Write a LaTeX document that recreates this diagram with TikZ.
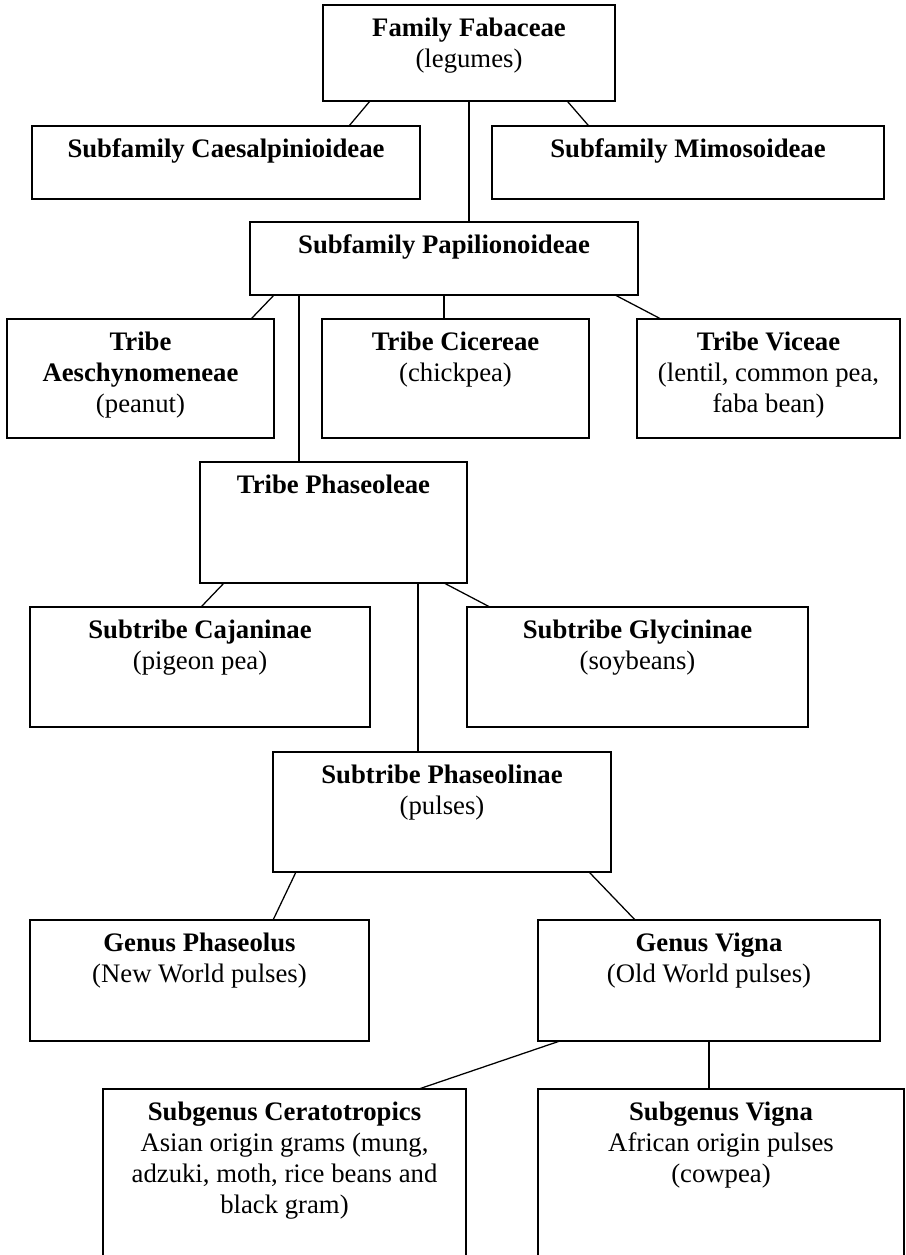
\documentclass[tikz,border=0pt]{standalone}
\usepackage{fontspec}
\setmainfont{Liberation Serif}
\usetikzlibrary{calc,fit}

\begin{document}
\begin{tikzpicture}[x=0.025cm, y=-0.025cm]
\tikzset{box/.style={draw, line width=1.1pt, inner sep=0pt, outer sep=0pt},
  txt/.style={anchor=north, align=center, inner sep=0pt, font=\fontsize{19}{22}\selectfont},
  link/.style={line width=0.9pt}}

\useasboundingbox (0,0) rectangle (906,1255);
\clip (0,0) rectangle (906,1255);

% family and subfamilies
\node [box, fit={(323,5) (615,101)}] (fab) {};
\node [txt] (fabt) at ([yshift=-9pt]fab.north) {\textbf{Family Fabaceae}\\(legumes)};

\node [box, fit={(32,126) (420,199)}] (cae) {};
\node [txt] (caet) at ([yshift=-9pt]cae.north) {\textbf{Subfamily Caesalpinioideae}};

\node [box, fit={(492,126) (884,199)}] (mim) {};
\node [txt] (mimt) at ([yshift=-9pt]mim.north) {\textbf{Subfamily Mimosoideae}};

\node [box, fit={(250,222) (638,295)}] (pap) {};
\node [txt] (papt) at ([yshift=-9pt]pap.north) {\textbf{Subfamily Papilionoideae}};

% tribes
\node [box, fit={(7,319) (274,438)}] (aes) {};
\node [txt] (aest) at ([yshift=-9pt]aes.north) {\textbf{Tribe}\\\textbf{Aeschynomeneae}\\(peanut)};

\node [box, fit={(322,319) (589,438)}] (cic) {};
\node [txt] (cict) at ([yshift=-9pt]cic.north) {\textbf{Tribe Cicereae}\\(chickpea)};

\node [box, fit={(637,319) (900,438)}] (vic) {};
\node [txt] (vict) at ([yshift=-9pt]vic.north) {\textbf{Tribe Viceae}\\(lentil, common pea,\\faba bean)};

\node [box, fit={(200,462) (467,583)}] (pha) {};
\node [txt] (phat) at ([yshift=-9pt]pha.north) {\textbf{Tribe Phaseoleae}};

% subtribes
\node [box, fit={(30,607) (370,727)}] (caj) {};
\node [txt] (cajt) at ([yshift=-9pt]caj.north) {\textbf{Subtribe Cajaninae}\\(pigeon pea)};

\node [box, fit={(467,607) (808,727)}] (gly) {};
\node [txt] (glyt) at ([yshift=-9pt]gly.north) {\textbf{Subtribe Glycininae}\\(soybeans)};

\node [box, fit={(273,752) (611,872)}] (phl) {};
\node [txt] (phlt) at ([yshift=-9pt]phl.north) {\textbf{Subtribe Phaseolinae}\\(pulses)};

% genera
\node [box, fit={(30,920) (369,1041)}] (phs) {};
\node [txt] (phst) at ([yshift=-9pt]phs.north) {\textbf{Genus Phaseolus}\\(New World pulses)};

\node [box, fit={(538,920) (880,1041)}] (vig) {};
\node [txt] (vigt) at ([yshift=-9pt]vig.north) {\textbf{Genus Vigna}\\(Old World pulses)};

% subgenera (run off the bottom)
\node [box, fit={(103,1089) (466,1300)}] (cer) {};
\node [txt] (cert) at ([yshift=-9pt]cer.north) {\textbf{Subgenus Ceratotropics}\\Asian origin grams (mung,\\adzuki, moth, rice beans and\\black gram)};

\node [box, fit={(538,1089) (904,1300)}] (svi) {};
\node [txt] (svit) at ([yshift=-9pt]svi.north) {\textbf{Subgenus Vigna}\\African origin pulses\\(cowpea)};

% links
\draw [link] ($(fab.south west)!0.161!(fab.south east)$) -- ($(cae.north west)!0.817!(cae.north east)$);
\draw [link] ($(fab.south west)!0.836!(fab.south east)$) -- ($(mim.north west)!0.247!(mim.north east)$);
\draw [link] (fab.south) -- (fab.south |- pap.north);

\draw [link] ($(pap.south west)!0.062!(pap.south east)$) -- ($(aes.north west)!0.914!(aes.north east)$);
\draw [link] ($(pap.south west)!0.126!(pap.south east)$) coordinate (p1) -- (p1 |- pha.north);
\draw [link] ($(pap.south west)!0.5!(pap.south east)$) coordinate (p2) -- (p2 |- cic.north);
\draw [link] ($(pap.south west)!0.941!(pap.south east)$) -- ($(vic.north west)!0.091!(vic.north east)$);

\draw [link] ($(pha.south west)!0.09!(pha.south east)$) -- ($(caj.north west)!0.503!(caj.north east)$);
\draw [link] ($(pha.south west)!0.816!(pha.south east)$) coordinate (p3) -- (p3 |- phl.north);
\draw [link] ($(pha.south west)!0.914!(pha.south east)$) -- ($(gly.north west)!0.067!(gly.north east)$);

\draw [link] ($(phl.south west)!0.068!(phl.south east)$) -- ($(phs.north west)!0.717!(phs.north east)$);
\draw [link] ($(phl.south west)!0.935!(phl.south east)$) -- ($(vig.north west)!0.284!(vig.north east)$);

\draw [link] ($(vig.south west)!0.064!(vig.south east)$) -- ($(cer.north west)!0.87!(cer.north east)$);
\draw [link] (vig.south) -- (vig.south |- svi.north);

\end{tikzpicture}
\end{document}
